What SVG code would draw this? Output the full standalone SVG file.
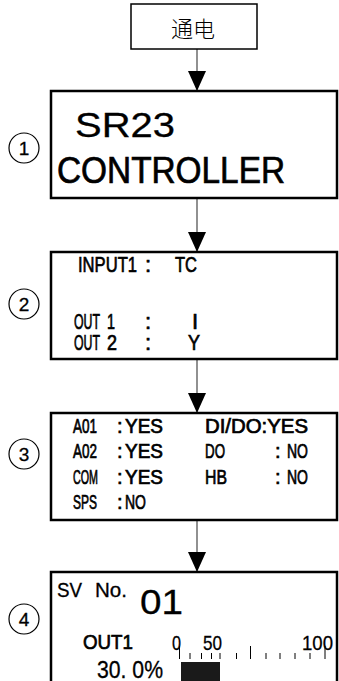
<svg xmlns="http://www.w3.org/2000/svg" width="339" height="681" viewBox="0 0 339 681">
<style>
.box{fill:#fff;stroke:#000;stroke-width:2.5}
.t{font-family:"Liberation Sans",Arial,sans-serif;fill:#000;stroke:#000;stroke-width:0.7}
.n{font-family:"Liberation Sans",Arial,sans-serif;fill:#000;stroke:#000;stroke-width:0.3}
.c{fill:none;stroke:#000;stroke-width:1.2}
.conn line{stroke:#555;stroke-width:1.3}
.tick{stroke:#000;stroke-width:1}
</style>
<defs>
<marker id="ah" viewBox="0 0 20 18" refX="20" refY="9" markerWidth="20" markerHeight="18" markerUnits="userSpaceOnUse" orient="auto">
<path d="M0,0 L20,9 L0,18 Z" fill="#000"/>
</marker>
</defs>
<g class="conn">
<line x1="197" y1="49" x2="197" y2="91" marker-end="url(#ah)"/>
<line x1="197" y1="198" x2="197" y2="252" marker-end="url(#ah)"/>
<line x1="197" y1="359" x2="197" y2="413" marker-end="url(#ah)"/>
<line x1="197" y1="520" x2="197" y2="572" marker-end="url(#ah)"/>
</g>
<g id="start">
<rect x="131" y="4" width="126" height="45" fill="#fff" stroke="#000" stroke-width="1.5"/>
<text x="193" y="37" text-anchor="middle" font-family="Noto Sans CJK SC, sans-serif" font-size="22" font-weight="300">通电</text>
</g>
<g id="step1">
<circle class="c" cx="24" cy="148" r="15"/>
<text class="n" x="24" y="155" text-anchor="middle" font-size="19">1</text>
<rect class="box" x="51" y="91" width="286" height="107"/>
<text class="n" x="75" y="137" font-size="35" textLength="100" lengthAdjust="spacingAndGlyphs">SR23</text>
<text class="t" x="57" y="183" font-size="36" textLength="228" lengthAdjust="spacingAndGlyphs">CONTROLLER</text>
</g>
<g id="step2">
<circle class="c" cx="24" cy="304" r="15"/>
<text class="n" x="24" y="311" text-anchor="middle" font-size="19">2</text>
<rect class="box" x="51" y="252" width="286" height="107"/>
<g class="t" font-size="22">
<text x="78" y="272" textLength="59" lengthAdjust="spacingAndGlyphs">INPUT1</text>
<text x="145" y="272">:</text>
<text x="175" y="272" textLength="22" lengthAdjust="spacingAndGlyphs">TC</text>
<text x="74" y="329" textLength="26" lengthAdjust="spacingAndGlyphs">OUT</text>
<text x="107" y="329" textLength="8" lengthAdjust="spacingAndGlyphs">1</text>
<text x="145" y="329">:</text>
<text x="192" y="329">I</text>
<text x="74" y="350" textLength="26" lengthAdjust="spacingAndGlyphs">OUT</text>
<text x="107" y="350" textLength="10" lengthAdjust="spacingAndGlyphs">2</text>
<text x="145" y="350">:</text>
<text x="188" y="350" textLength="12" lengthAdjust="spacingAndGlyphs">Y</text>
</g>
</g>
<g id="step3">
<circle class="c" cx="24" cy="454" r="15"/>
<text class="n" x="24" y="461" text-anchor="middle" font-size="19">3</text>
<rect class="box" x="51" y="413" width="286" height="107"/>
<g class="t" font-size="20">
<text x="73" y="433" textLength="24" lengthAdjust="spacingAndGlyphs">A01</text>
<text x="117" y="433">:</text>
<text x="125" y="433" textLength="38" lengthAdjust="spacingAndGlyphs">YES</text>
<text x="205" y="433" textLength="103" lengthAdjust="spacingAndGlyphs">DI/DO:YES</text>
<text x="73" y="458" textLength="24" lengthAdjust="spacingAndGlyphs">A02</text>
<text x="117" y="458">:</text>
<text x="125" y="458" textLength="38" lengthAdjust="spacingAndGlyphs">YES</text>
<text x="205" y="458" textLength="20" lengthAdjust="spacingAndGlyphs">DO</text>
<text x="275" y="458">:</text>
<text x="287" y="458" textLength="21" lengthAdjust="spacingAndGlyphs">NO</text>
<text x="73" y="484" textLength="25" lengthAdjust="spacingAndGlyphs">COM</text>
<text x="117" y="484">:</text>
<text x="125" y="484" textLength="38" lengthAdjust="spacingAndGlyphs">YES</text>
<text x="205" y="484" textLength="22" lengthAdjust="spacingAndGlyphs">HB</text>
<text x="275" y="484">:</text>
<text x="287" y="484" textLength="21" lengthAdjust="spacingAndGlyphs">NO</text>
<text x="73" y="509" textLength="24" lengthAdjust="spacingAndGlyphs">SPS</text>
<text x="117" y="509">:</text>
<text x="125" y="509" textLength="21" lengthAdjust="spacingAndGlyphs">NO</text>
</g>
</g>
<g id="step4">
<circle class="c" cx="24" cy="619" r="15"/>
<text class="n" x="24" y="626" text-anchor="middle" font-size="19">4</text>
<rect class="box" x="51" y="572" width="286" height="115"/>
<text class="n" x="57" y="597" font-size="20" textLength="25" lengthAdjust="spacingAndGlyphs">SV</text>
<text class="n" x="95" y="597" font-size="20" textLength="32" lengthAdjust="spacingAndGlyphs">No.</text>
<text class="n" x="140" y="614" font-size="35" textLength="43" lengthAdjust="spacingAndGlyphs">01</text>
<text class="t" x="83" y="649" font-size="21" textLength="50" lengthAdjust="spacingAndGlyphs">OUT1</text>
<text class="n" x="172" y="650" font-size="21" textLength="9" lengthAdjust="spacingAndGlyphs">0</text>
<text class="n" x="203" y="650" font-size="21" textLength="19" lengthAdjust="spacingAndGlyphs">50</text>
<text class="n" x="302" y="650" font-size="21" textLength="31" lengthAdjust="spacingAndGlyphs">100</text>
<text class="n" x="97" y="678" font-size="23" textLength="66" lengthAdjust="spacingAndGlyphs">30. 0%</text>
<g class="tick">
<line x1="179.5" y1="646" x2="179.5" y2="659"/>
<line x1="190" y1="653" x2="190" y2="659"/>
<line x1="201.5" y1="653" x2="201.5" y2="659"/>
<line x1="211.5" y1="653" x2="211.5" y2="659"/>
<line x1="220" y1="653" x2="220" y2="659"/>
<line x1="236.5" y1="653" x2="236.5" y2="659"/>
<line x1="250.5" y1="646" x2="250.5" y2="659"/>
<line x1="266" y1="653" x2="266" y2="659"/>
<line x1="280" y1="653" x2="280" y2="659"/>
<line x1="295" y1="653" x2="295" y2="659"/>
<line x1="310" y1="653" x2="310" y2="659"/>
<line x1="325" y1="646" x2="325" y2="659"/>
</g>
<rect x="181" y="662" width="39" height="20" fill="#1a1a1a"/>
</g>
</svg>
